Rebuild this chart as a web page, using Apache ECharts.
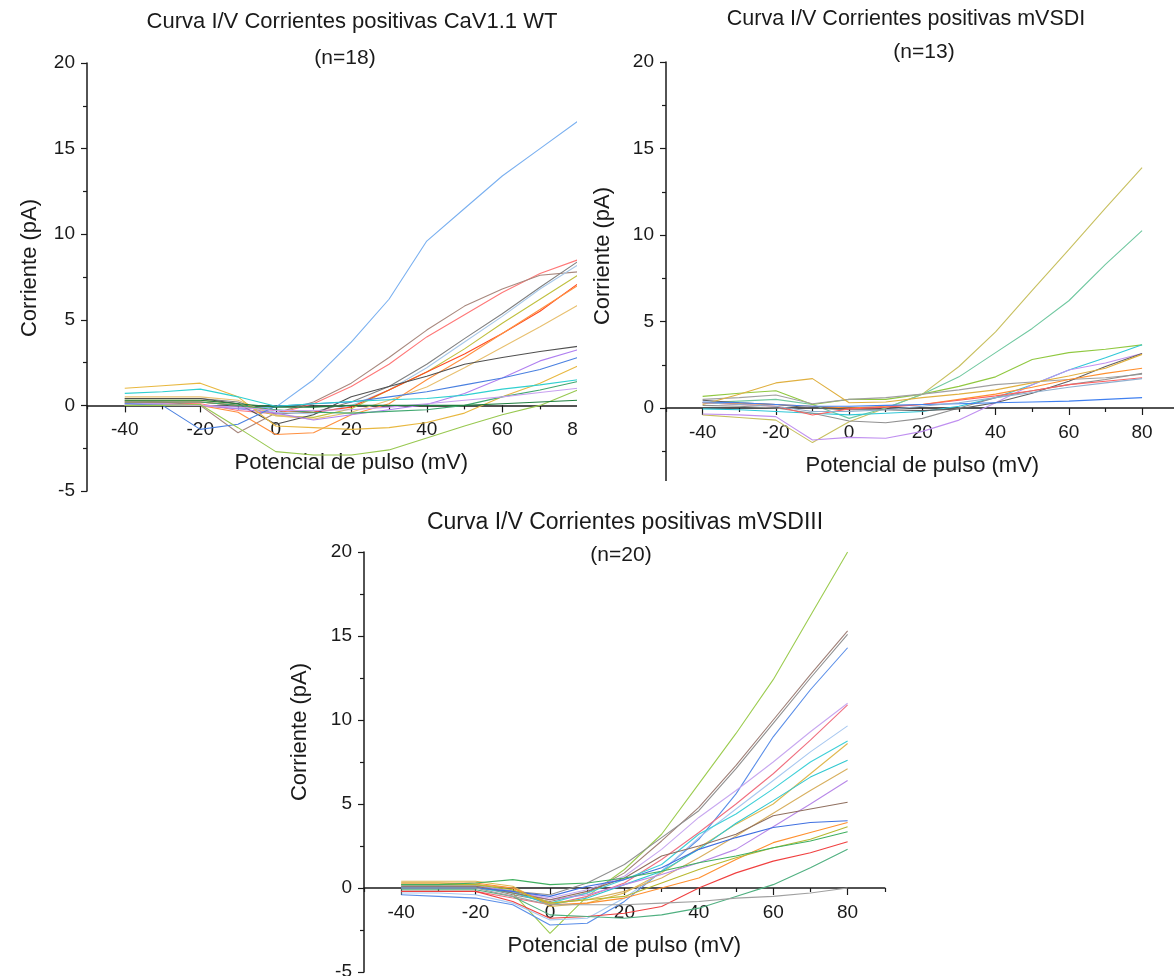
<!DOCTYPE html>
<html>
<head>
<meta charset="utf-8">
<script src="https://cdn.jsdelivr.net/npm/echarts@6/dist/echarts.min.js"></script>
<style>
  html, body { margin: 0; padding: 0; background: #ffffff; }
  #page { position: relative; width: 1174px; height: 976px; overflow: hidden; }
  .clip { position: absolute; overflow: hidden; }
  .chart { position: absolute; left: 0; top: 0; }
</style>
</head>
<body>
<div id="page">
  <div class="clip" style="left:0;top:0;width:577px;height:500px">
    <div id="wt" class="chart" style="width:700px;height:500px"></div>
  </div>
  <div class="clip" style="left:590px;top:0;width:584px;height:481px">
    <div id="vsd1" class="chart" style="width:584px;height:530px"></div>
  </div>
  <div class="clip" style="left:0;top:500px;width:1174px;height:476px">
    <div id="vsd3" class="chart" style="width:1174px;height:476px"></div>
  </div>
</div>
<script>
// Pulse potentials (mV) shared by every recorded cell
const voltages = [-40, -30, -20, -10, 0, 10, 20, 30, 40, 50, 60, 70, 80];

// Axis ticks
const xMajorTicks = [-40, -20, 0, 20, 40, 60, 80];
const xMinorTicks = [-50, -30, -10, 10, 30, 50, 70, 90];

// CaV1.1 WT, one current trace (pA) per cell (n=18)
const wtCells = [
  [0.1, 0.05, 0.0, -0.2, -0.1, 1.5, 3.7, 6.2, 9.6, 11.5, 13.4, 15.0, 16.6],
  [0.2, 0.15, 0.1, -0.3, -0.5, 0.1, 1.1, 2.4, 4.0, 5.3, 6.6, 7.7, 8.5],
  [0.3, 0.2, 0.0, -1.6, -0.45, 0.2, 1.3, 2.8, 4.4, 5.8, 6.8, 7.6, 7.8],
  [0.4, 0.4, 0.4, 0.2, -0.5, -0.4, 0.2, 1.1, 2.4, 3.9, 5.35, 6.9, 8.4],
  [0.2, 0.2, 0.2, 0.0, -0.4, -0.5, 0.0, 0.9, 2.2, 3.7, 5.2, 6.8, 8.2],
  [0.3, 0.3, 0.3, 0.1, -0.6, -0.7, -0.2, 0.9, 1.95, 3.3, 4.8, 6.2, 7.6],
  [0.2, 0.2, 0.2, 0.0, -0.3, -0.4, -0.1, 0.9, 1.95, 3.0, 4.2, 5.5, 7.1],
  [0.0, 0.0, 0.0, -0.4, -1.7, -1.6, -0.55, 0.1, 1.5, 2.8, 4.2, 5.6, 7.0],
  [0.5, 0.5, 0.5, 0.3, -0.6, -0.8, -0.4, 0.3, 1.07, 2.2, 3.4, 4.6, 5.85],
  [0.4, 0.4, 0.4, 0.1, -1.1, -0.55, 0.5, 1.1, 1.7, 2.4, 2.8, 3.15, 3.45],
  [0.1, 0.1, 0.0, -0.2, -0.45, -0.85, -0.55, -0.25, 0.05, 0.7, 1.6, 2.6, 3.25],
  [0.1, 0.0, -1.4, -1.1, -0.05, 0.1, 0.2, 0.5, 0.8, 1.2, 1.6, 2.1, 2.8],
  [1.0, 1.15, 1.3, 0.5, -1.2, -1.3, -1.4, -1.3, -1.0, -0.45, 0.5, 1.3, 2.3],
  [0.7, 0.8, 0.95, 0.5, -0.05, 0.1, 0.23, 0.33, 0.4, 0.6, 0.95, 1.2, 1.5],
  [0.2, 0.2, 0.2, 0.0, -0.25, -0.4, -0.45, -0.35, -0.25, 0.0, 0.5, 0.9, 1.4],
  [0.0, 0.0, 0.0, -0.1, -0.3, -0.3, -0.25, -0.1, 0.1, 0.3, 0.5, 0.75, 1.0],
  [0.0, 0.0, 0.05, -1.3, -2.7, -2.9, -2.9, -2.6, -1.9, -1.2, -0.55, 0.0, 0.9],
  [0.3, 0.3, 0.3, 0.1, -0.1, -0.1, 0.0, 0.0, 0.0, 0.0, 0.1, 0.2, 0.3]
];

// mVSDI (n=13)
const vsd1Cells = [
  [-0.4, -0.55, -0.7, -2.0, -0.8, 0.0, 0.8, 2.4, 4.4, 6.8, 9.15, 11.55, 13.9],
  [0.3, 0.4, 0.5, 0.2, -0.6, 0.0, 0.8, 1.8, 3.2, 4.6, 6.2, 8.3, 10.25],
  [0.67, 0.85, 1.0, 0.2, 0.5, 0.5, 0.8, 1.25, 1.8, 2.8, 3.2, 3.4, 3.65],
  [-0.05, -0.1, -0.2, -0.3, -0.4, -0.3, -0.2, 0.1, 0.6, 1.35, 2.2, 2.9, 3.65],
  [-0.35, -0.4, -0.5, -1.85, -1.7, -1.75, -1.35, -0.7, 0.3, 1.35, 2.2, 2.6, 3.15],
  [0.5, 0.6, 0.75, 0.25, 0.5, 0.6, 0.8, 1.05, 1.35, 1.5, 1.65, 1.75, 1.95],
  [0.15, 0.1, 0.0, -0.3, -0.75, -0.85, -0.6, 0.0, 0.6, 1.0, 1.35, 1.65, 2.0],
  [0.45, 0.3, 0.2, 0.0, -0.1, -0.1, -0.15, -0.05, 0.3, 0.85, 1.55, 2.4, 3.15],
  [0.3, 0.25, 0.2, 0.1, 0.0, 0.1, 0.2, 0.5, 0.8, 1.2, 1.65, 2.0, 2.3],
  [0.2, 0.8, 1.45, 1.7, 0.3, 0.35, 0.6, 0.8, 1.05, 1.45, 1.85, 2.3, 3.1],
  [0.3, 0.2, 0.1, -0.4, -0.05, 0.05, 0.2, 0.45, 0.7, 1.0, 1.35, 1.55, 1.75],
  [0.35, 0.3, 0.2, 0.1, 0.1, 0.15, 0.2, 0.25, 0.3, 0.35, 0.4, 0.5, 0.6],
  [0.3, 0.2, 0.1, -0.2, -0.2, -0.1, 0.1, 0.3, 0.6, 0.9, 1.2, 1.45, 1.7]
];

// mVSDIII (n=20)
const vsd3Cells = [
  [0.3, 0.3, 0.2, -0.3, -2.7, -0.5, 1.1, 3.2, 6.2, 9.2, 12.4, 16.2, 20.0],
  [0.1, 0.1, 0.1, -0.4, -0.8, -0.3, 0.9, 2.8, 4.8, 7.3, 10.0, 12.7, 15.3],
  [0.0, 0.0, 0.0, -0.2, -0.4, 0.3, 1.4, 3.0, 4.6, 7.1, 9.8, 12.5, 15.1],
  [-0.4, -0.5, -0.6, -1.0, -2.2, -2.1, -0.8, 1.0, 2.9, 5.6, 9.0, 11.8, 14.3],
  [0.2, 0.2, 0.2, -0.2, -0.6, -0.1, 0.7, 2.3, 4.2, 5.8, 7.5, 9.3, 11.0],
  [-0.2, -0.2, -0.2, -0.6, -1.0, -0.5, 0.3, 1.7, 3.3, 5.0, 6.8, 8.8, 10.9],
  [-0.3, -0.3, -0.4, -0.9, -1.9, -1.8, -0.6, 1.0, 3.0, 4.7, 6.4, 8.1, 9.65],
  [0.0, 0.0, 0.0, -0.3, -0.9, -0.3, 0.5, 1.4, 3.2, 4.4, 5.9, 7.5, 8.75],
  [0.4, 0.4, 0.4, 0.1, -1.1, -0.9, -0.3, 0.9, 2.4, 3.8, 5.0, 6.8, 8.6],
  [0.1, 0.1, 0.1, -0.2, -1.0, -0.6, 0.2, 1.0, 2.3, 3.85, 5.2, 6.6, 7.6],
  [0.2, 0.2, 0.2, 0.0, -0.9, -0.7, -0.2, 0.6, 1.8, 3.1, 4.45, 5.8, 7.1],
  [0.1, 0.1, 0.1, -0.2, -0.7, -0.4, 0.2, 0.8, 1.5, 2.3, 3.65, 5.0, 6.4],
  [0.1, 0.1, 0.1, -0.3, -0.7, -0.2, 0.6, 1.9, 2.5, 3.2, 4.3, 4.7, 5.1],
  [0.0, 0.0, 0.0, -0.2, -0.5, 0.1, 0.5, 1.2, 2.3, 3.0, 3.6, 3.9, 4.0],
  [0.3, 0.3, 0.3, 0.0, -1.0, -0.9, -0.6, 0.0, 0.6, 1.7, 2.7, 3.3, 3.9],
  [0.2, 0.2, 0.2, -0.1, -0.9, -0.7, -0.5, 0.3, 1.1, 1.8, 2.4, 2.9, 3.65],
  [0.2, 0.2, 0.3, 0.5, 0.2, 0.3, 0.6, 1.0, 1.5, 1.9, 2.4, 2.8, 3.35],
  [-0.2, -0.2, -0.2, -0.8, -1.8, -1.7, -1.5, -1.1, 0.0, 0.9, 1.6, 2.1, 2.75],
  [-0.1, -0.1, -0.1, -0.5, -1.6, -1.7, -1.8, -1.6, -1.2, -0.5, 0.2, 1.2, 2.3],
  [0.0, 0.0, 0.0, -0.5, -1.0, -1.0, -1.0, -0.9, -0.8, -0.6, -0.5, -0.3, 0.0]
];

// Trace colours, one per cell in the order above
const wtColors = ['#7ab0f0', '#ff7878', '#a8887e', '#808080', '#a8c8e8', '#c0c040', '#ff4a20', '#ff9040',
  '#e8c070', '#505050', '#b080f0', '#4a80e0', '#e8b840', '#30d0d0', '#40a870', '#c8a0f0', '#98c850', '#208040'];
const vsd1Colors = ['#c8c060', '#70c8a0', '#90c840', '#30c8d8', '#c090f0', '#a0a0a0', '#909090', '#606060',
  '#ff9030', '#e0b040', '#ff6060', '#4080f0', '#90b0d0'];
const vsd3Colors = ['#9ccc50', '#a08078', '#909090', '#5a8ee8', '#c8a8f0', '#f07080', '#a8c8f0', '#40d0d8',
  '#e0b850', '#30c8d0', '#d8b060', '#b888e8', '#907060', '#4070e0', '#ff9030', '#b8b830', '#40b060',
  '#f04040', '#50b080', '#a0a0a0'];

const Y_MIN = -5, Y_MAX = 20;
const FONT = '"Liberation Sans", Arial, sans-serif';
const INK = '#1a1a1a';

function textEl(text, x, y, size, rotate) {
  return {
    type: 'text', x: x, y: y, rotation: rotate ? Math.PI / 2 : 0, silent: true,
    style: { text: text, fontSize: size, fontFamily: FONT, fill: INK,
      align: 'center', verticalAlign: 'middle', textAlign: 'center', textVerticalAlign: 'middle' }
  };
}

function panelOption(p) {
  const axisLineStyle = { color: INK, width: 1.5 };
  const gridH = p.grid[3];
  // the current axis sits at I = 0, lifted from the bottom edge of the plot
  const zeroLift = -gridH * (0 - Y_MIN) / (Y_MAX - Y_MIN);
  return {
    animation: false,
    backgroundColor: 'transparent',
    grid: { left: p.grid[0], top: p.grid[1], width: p.grid[2], height: gridH,
      containLabel: false, outerBoundsMode: 'none' },
    xAxis: [
      {
        type: 'value', min: -50, max: 90, position: 'bottom', offset: zeroLift,
        name: 'Potencial de pulso (mV)', nameLocation: 'middle', nameGap: 47,
        nameTextStyle: { fontSize: 22, fontFamily: FONT, color: INK },
        axisLine: { show: true, onZero: false, lineStyle: axisLineStyle },
        axisTick: { show: true, customValues: xMajorTicks, length: 7, lineStyle: { color: INK, width: 1.2 } },
        axisLabel: { show: true, customValues: xMajorTicks, margin: 15, fontSize: 19, fontFamily: FONT, color: INK },
        splitLine: { show: false }
      },
      {
        type: 'value', min: -50, max: 90, position: 'bottom', offset: zeroLift,
        axisLine: { show: false, onZero: false },
        axisTick: { show: true, customValues: xMinorTicks, length: 4, lineStyle: { color: INK, width: 1.2 } },
        axisLabel: { show: false },
        splitLine: { show: false }
      }
    ],
    yAxis: {
      type: 'value', min: Y_MIN, max: Y_MAX, interval: 5,
      axisLine: { show: true, onZero: false, lineStyle: axisLineStyle },
      axisTick: { show: true, length: 6, lineStyle: { color: INK, width: 1.2 } },
      minorTick: { show: true, splitNumber: 2, length: 4, lineStyle: { color: INK, width: 1.2 } },
      axisLabel: { margin: 12, fontSize: 19, fontFamily: FONT, color: INK },
      splitLine: { show: false }, minorSplitLine: { show: false }
    },
    graphic: [
      textEl(p.title, p.titlePos[0], p.titlePos[1], p.titleSize, false),
      textEl(p.count, p.countPos[0], p.countPos[1], 21, false),
      textEl('Corriente (pA)', p.yNamePos[0], p.yNamePos[1], 22, true)
    ],
    series: p.cells.map(function (cell, i) {
      return {
        type: 'line', xAxisIndex: 0, yAxisIndex: 0,
        data: voltages.map(function (v, k) { return [v, cell[k]]; }),
        showSymbol: false, symbol: 'none', silent: true,
        lineStyle: { width: 1.1, color: p.colors[i] }, itemStyle: { color: p.colors[i] },
        z: 2
      };
    })
  };
}

const panels = [
  { id: 'wt', cells: wtCells, colors: wtColors,
    title: 'Curva I/V Corrientes positivas CaV1.1 WT', count: '(n=18)', titleSize: 22,
    grid: [87, 63, 528.5, 428], titlePos: [352, 22], countPos: [345, 58], yNamePos: [30, 268] },
  { id: 'vsd1', cells: vsd1Cells, colors: vsd1Colors,
    title: 'Curva I/V Corrientes positivas mVSDI', count: '(n=13)', titleSize: 21.5,
    grid: [76, 62, 512.7, 432.5], titlePos: [316, 19], countPos: [334, 52], yNamePos: [13, 256] },
  { id: 'vsd3', cells: vsd3Cells, colors: vsd3Colors,
    title: 'Curva I/V Corrientes positivas mVSDIII', count: '(n=20)', titleSize: 23,
    grid: [364, 52, 520.8, 420], titlePos: [625, 23], countPos: [621, 55], yNamePos: [300, 232] }
];

panels.forEach(function (p) {
  const chart = echarts.init(document.getElementById(p.id), null, { renderer: 'canvas' });
  chart.setOption(panelOption(p));
});
</script>
</body>
</html>
